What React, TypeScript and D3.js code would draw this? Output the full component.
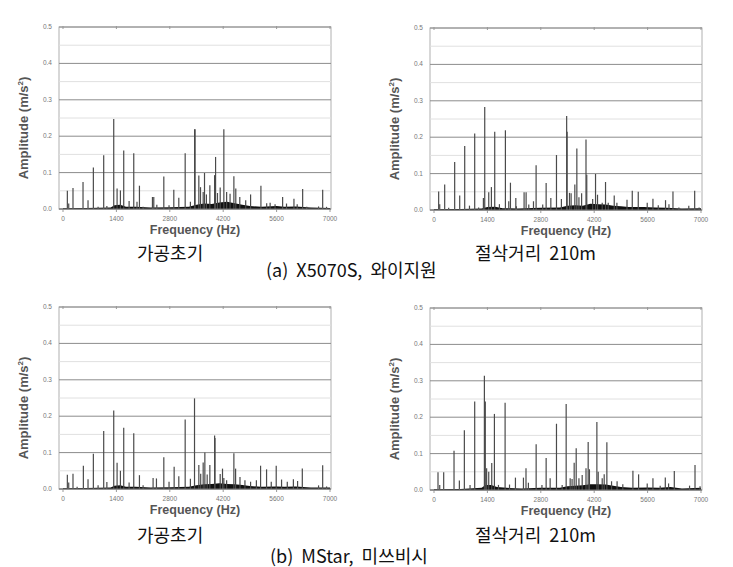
import React from 'react';
import * as d3 from 'd3';

type Pt = [number, number];

// axis ticks
const xTicks = [0, 1400, 2800, 4200, 5600, 7000];
const yTicks = [0, 0.1, 0.2, 0.3, 0.4, 0.5];
const yMinor = [0.05, 0.15, 0.25, 0.35, 0.45];

// (a) X5070S - 가공초기
const peaksA1: Pt[] = [
  [114, 0.05], [150, 0.015], [262, 0.058], [525, 0.074], [656, 0.024], [796, 0.114], [920, 0.006],
  [1067, 0.148], [1150, 0.008], [1330, 0.247], [1418, 0.056], [1505, 0.051], [1592, 0.161],
  [1733, 0.022], [1855, 0.153], [1940, 0.02], [2004, 0.064], [2100, 0.006], [2345, 0.033],
  [2380, 0.033], [2460, 0.012], [2643, 0.089], [2780, 0.01], [2905, 0.053], [3036, 0.031],
  [3203, 0.153], [3340, 0.02], [3450, 0.219], [3462, 0.219], [3561, 0.092], [3605, 0.06],
  [3675, 0.047], [3710, 0.099], [3760, 0.04], [3850, 0.065], [3975, 0.093], [3985, 0.093],
  [4000, 0.143], [4050, 0.044], [4121, 0.059], [4217, 0.219], [4290, 0.047], [4380, 0.042],
  [4480, 0.09], [4530, 0.056], [4635, 0.033], [4790, 0.024], [4918, 0.04], [5189, 0.064],
  [5340, 0.016], [5430, 0.017], [5560, 0.013], [5758, 0.033], [5860, 0.015], [6055, 0.028],
  [6140, 0.013], [6283, 0.055], [6390, 0.006], [6700, 0.007], [6808, 0.053], [6910, 0.006],
];
const floorA1: Pt[] = [
  [0, 0.002], [600, 0.003], [1250, 0.004], [1350, 0.01], [1500, 0.012], [1650, 0.006],
  [1900, 0.006], [2300, 0.004], [2800, 0.005], [3300, 0.006], [3500, 0.012], [3700, 0.015],
  [3900, 0.014], [4100, 0.018], [4300, 0.02], [4500, 0.016], [4700, 0.012], [4900, 0.008],
  [5200, 0.006], [5600, 0.008], [5800, 0.006], [6100, 0.007], [6500, 0.004], [7000, 0.003],
];

// (a) X5070S - 절삭거리 210m
const peaksA2: Pt[] = [
  [122, 0.051], [150, 0.016], [280, 0.07], [385, 0.006], [542, 0.132], [674, 0.04],
  [805, 0.176], [930, 0.012], [1067, 0.21], [1170, 0.007], [1295, 0.033], [1330, 0.283],
  [1435, 0.049], [1505, 0.063], [1592, 0.215], [1715, 0.016], [1872, 0.219], [1960, 0.024],
  [2004, 0.075], [2145, 0.033], [2160, 0.01], [2362, 0.049], [2415, 0.049], [2485, 0.015],
  [2608, 0.024], [2677, 0.123], [2850, 0.015], [2940, 0.074], [3063, 0.033], [3211, 0.151],
  [3340, 0.03], [3478, 0.258], [3490, 0.215], [3552, 0.047], [3595, 0.046], [3692, 0.07],
  [3745, 0.169], [3800, 0.035], [3870, 0.046], [3985, 0.194], [4005, 0.097], [4160, 0.03],
  [4235, 0.099], [4287, 0.042], [4410, 0.02], [4497, 0.077], [4568, 0.02], [4725, 0.04],
  [4795, 0.02], [5060, 0.028], [5198, 0.053], [5355, 0.05], [5590, 0.02], [5740, 0.031],
  [5880, 0.013], [6070, 0.027], [6160, 0.016], [6265, 0.051], [6420, 0.007], [6680, 0.012],
  [6834, 0.053], [6950, 0.007],
];
const floorA2: Pt[] = [
  [0, 0.002], [700, 0.003], [1250, 0.004], [1400, 0.008], [1600, 0.009], [1800, 0.005],
  [2200, 0.004], [2800, 0.006], [3300, 0.007], [3500, 0.012], [3700, 0.013], [3900, 0.012],
  [4100, 0.017], [4300, 0.016], [4500, 0.015], [4700, 0.012], [4900, 0.01], [5100, 0.008],
  [5500, 0.008], [5800, 0.007], [6100, 0.006], [6500, 0.004], [7000, 0.005],
];

// (b) MStar - 가공초기
const peaksB1: Pt[] = [
  [114, 0.039], [150, 0.018], [262, 0.042], [370, 0.006], [534, 0.064], [656, 0.027],
  [796, 0.097], [920, 0.01], [1067, 0.159], [1150, 0.019], [1330, 0.216], [1418, 0.072],
  [1505, 0.05], [1592, 0.168], [1733, 0.018], [1855, 0.153], [2004, 0.038], [2100, 0.01],
  [2362, 0.03], [2450, 0.029], [2643, 0.087], [2780, 0.02], [2914, 0.061], [3036, 0.035],
  [3203, 0.191], [3340, 0.028], [3448, 0.249], [3561, 0.066], [3610, 0.042], [3675, 0.073],
  [3719, 0.1], [3780, 0.04], [3850, 0.066], [3975, 0.147], [3985, 0.14], [4121, 0.041],
  [4182, 0.056], [4217, 0.03], [4290, 0.024], [4480, 0.098], [4525, 0.056], [4640, 0.033],
  [4770, 0.024], [4918, 0.02], [5070, 0.024], [5180, 0.064], [5337, 0.054], [5460, 0.02],
  [5590, 0.064], [5730, 0.026], [5880, 0.02], [6040, 0.027], [6150, 0.022], [6274, 0.056],
  [6700, 0.01], [6808, 0.065], [6910, 0.007],
];
const floorB1: Pt[] = [
  [0, 0.002], [600, 0.003], [1250, 0.004], [1350, 0.009], [1500, 0.01], [1650, 0.006],
  [1900, 0.006], [2300, 0.004], [2800, 0.005], [3300, 0.006], [3500, 0.01], [3700, 0.013],
  [3900, 0.014], [4100, 0.016], [4300, 0.014], [4500, 0.013], [4700, 0.011], [4900, 0.008],
  [5200, 0.006], [5600, 0.007], [5800, 0.006], [6100, 0.007], [6500, 0.004], [7000, 0.004],
];

// (b) MStar - 절삭거리 210m
const peaksB2: Pt[] = [
  [105, 0.049], [150, 0.014], [254, 0.049], [525, 0.108], [665, 0.026], [796, 0.164],
  [945, 0.014], [1067, 0.243], [1321, 0.314], [1345, 0.243], [1380, 0.06], [1435, 0.05],
  [1514, 0.074], [1584, 0.209], [1690, 0.014], [1864, 0.24], [1980, 0.015], [2135, 0.034],
  [2345, 0.034], [2412, 0.06], [2475, 0.02], [2678, 0.126], [2830, 0.014], [2940, 0.088],
  [3045, 0.032], [3211, 0.182], [3360, 0.014], [3465, 0.236], [3570, 0.032], [3620, 0.03],
  [3675, 0.075], [3728, 0.115], [3800, 0.032], [3885, 0.041], [3985, 0.06], [4042, 0.132],
  [4075, 0.057], [4270, 0.187], [4305, 0.05], [4410, 0.032], [4462, 0.043], [4532, 0.131],
  [4655, 0.024], [4800, 0.024], [4950, 0.016], [5215, 0.053], [5364, 0.043], [5590, 0.018],
  [5740, 0.032], [5930, 0.012], [6064, 0.034], [6150, 0.018], [6300, 0.052], [6700, 0.012],
  [6843, 0.069], [6975, 0.01],
];
const floorB2: Pt[] = [
  [0, 0.002], [700, 0.003], [1250, 0.006], [1350, 0.014], [1500, 0.014], [1650, 0.008],
  [1900, 0.006], [2300, 0.004], [2800, 0.006], [3300, 0.006], [3500, 0.01], [3700, 0.012],
  [3900, 0.013], [4100, 0.016], [4300, 0.016], [4500, 0.015], [4700, 0.012], [4900, 0.008],
  [5200, 0.006], [5600, 0.007], [5900, 0.006], [6200, 0.008], [6500, 0.004], [7000, 0.006],
];

const FONT_UI = "'Liberation Sans', Arial, sans-serif";
const FONT_KR = "'Noto Sans CJK KR', sans-serif";

interface PanelProps {
  left: number;
  top: number;
  peaks: Pt[];
  floor: Pt[];
}

const PW = 272;
const PH = 182;

const Panel: React.FC<PanelProps> = ({ left, top, peaks, floor }) => {
  const x = d3.scaleLinear().domain([0, 7000]).range([left + 4, left + PW - 1]);
  const y = d3.scaleLinear().domain([0, 0.5]).range([top + PH, top]);
  const area = d3.area<Pt>().x(d => x(d[0])).y0(y(0)).y1(d => y(d[1]));

  return (
    <g>
      <rect x={left} y={top} width={PW} height={PH} fill="#fff" stroke="#b0b0b0" />
      {yMinor.map(v => (
        <line key={'m' + v} x1={left} x2={left + PW} y1={y(v)} y2={y(v)} stroke="#e0e0e0" />
      ))}
      {yTicks.map(v => (
        <line key={'g' + v} x1={left} x2={left + PW} y1={y(v)} y2={y(v)} stroke="#8c8c8c" />
      ))}
      {xTicks.map(v => (
        <g key={'t' + v}>
          <line x1={x(v)} x2={x(v)} y1={y(0)} y2={y(0) + 3} stroke="#999" />
          <line x1={x(v)} x2={x(v)} y1={y(0.5) - 1} y2={y(0.5) + 2} stroke="#999" />
          <text x={x(v)} y={top + PH + 12} textAnchor="middle" fontSize={6.5}
            fontFamily={FONT_UI} fill="#777">{v}</text>
        </g>
      ))}
      {yTicks.map(v => (
        <text key={'y' + v} x={left - 7} y={y(v) + 2} textAnchor="end" fontSize={6.5}
          fontFamily={FONT_UI} fill="#777">{v.toFixed(1)}</text>
      ))}
      <path d={area(floor) ?? ''} fill="#111" />
      {peaks.map((d, i) => (
        <line key={i} x1={x(d[0])} x2={x(d[0])} y1={y(0)} y2={y(d[1])}
          stroke="#4a4a4a" strokeWidth={1.2} />
      ))}
      <line x1={left} x2={left + PW} y1={y(0)} y2={y(0)} stroke="#777" />
      <text transform={`translate(${left - 31},${top + 101}) rotate(-90)`} textAnchor="middle"
        fontSize={13} fontWeight="bold" fontFamily={FONT_UI} fill="#555">
        Amplitude (m/s<tspan dy={-5} fontSize={8}>2</tspan><tspan dy={5}>)</tspan>
      </text>
      <text x={left + PW / 2} y={top + PH + 25} textAnchor="middle" fontSize={12.5}
        fontWeight="bold" fontFamily={FONT_UI} fill="#555">Frequency (Hz)</text>
    </g>
  );
};

export default function App() {
  const sp = '\u00a0';
  return (
    <svg width={733} height={567} style={{ position: 'absolute', left: 0, top: 0, background: '#fff' }}>
      <rect width={733} height={567} fill="#fff" />
      <Panel left={59} top={27} peaks={peaksA1} floor={floorA1} />
      <Panel left={430} top={28} peaks={peaksA2} floor={floorA2} />
      <Panel left={59} top={307} peaks={peaksB1} floor={floorB1} />
      <Panel left={430} top={308} peaks={peaksB2} floor={floorB2} />

      <g fontFamily={FONT_KR} fontSize={18} fill="#111">
        <text x={137} y={260}>가공초기</text>
        <text x={475} y={260}>{`절삭거리${sp}${sp}210m`}</text>
        <text x={266} y={277}>{`(a)${sp}${sp}X5070S,${sp}${sp}와이지원`}</text>
        <text x={137} y={542}>가공초기</text>
        <text x={475} y={542}>{`절삭거리${sp}${sp}210m`}</text>
        <text x={270} y={563}>{`(b)${sp}${sp}MStar,${sp}${sp}미쓰비시`}</text>
      </g>
    </svg>
  );
}
